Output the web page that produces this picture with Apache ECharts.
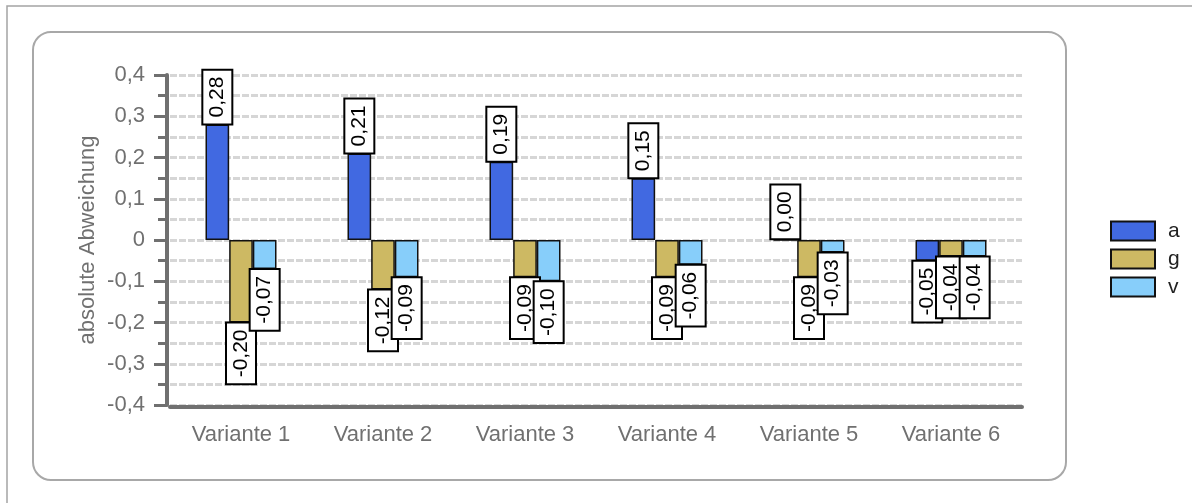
<!DOCTYPE html>
<html>
<head>
<meta charset="utf-8">
<script src="https://cdn.jsdelivr.net/npm/echarts@6/dist/echarts.min.js"></script>
<style>
  html, body { margin: 0; padding: 0; background: #ffffff; }
  #chart { width: 1192px; height: 503px; }
</style>
</head>
<body>
<div id="chart"></div>
<script>
// Categories and deviation values per series
const categories = ['Variante 1', 'Variante 2', 'Variante 3', 'Variante 4', 'Variante 5', 'Variante 6'];
const seriesNames = ['a', 'g', 'v'];
const valuesA = [0.28, 0.21, 0.19, 0.15, 0.00, -0.05];
const valuesG = [-0.20, -0.12, -0.09, -0.09, -0.09, -0.04];
const valuesV = [-0.07, -0.09, -0.10, -0.06, -0.03, -0.04];
const seriesColors = ['#4169E1', '#CDB963', '#87CEFA'];

const FONT = '"Liberation Sans", Arial, sans-serif';
const AXIS_GRAY = '#707070';

const fmtComma = (v, digits) => v.toFixed(digits).replace('.', ',');

// Value labels: vertical white boxes sitting on the end of each bar
const labelBase = {
  show: true,
  rotate: 90,
  distance: 1,
  fontFamily: FONT,
  fontSize: 21,
  color: '#000',
  backgroundColor: '#fff',
  borderColor: '#000',
  borderWidth: 2,
  padding: [3, 6, 3, 6],
  lineHeight: 22,
  verticalAlign: 'middle',
  formatter: p => fmtComma(p.value, 2)
};
const posLabel = Object.assign({}, labelBase, { position: 'top', align: 'left' });
const negLabel = Object.assign({}, labelBase, { position: 'bottom', align: 'right' });

function toItems(values) {
  return values.map(v => ({ value: v, label: v >= 0 ? posLabel : negLabel }));
}

const allValues = [valuesA, valuesG, valuesV];
const series = seriesNames.map((name, i) => ({
  name: name,
  type: 'bar',
  data: toItems(allValues[i]),
  barGap: '0%',
  barCategoryGap: '50%',
  itemStyle: { color: seriesColors[i], borderColor: '#111', borderWidth: 1.5 },
  emphasis: { disabled: true }
}));

const chart = echarts.init(document.getElementById('chart'), null, { renderer: 'canvas' });
chart.setOption({
  animation: false,
  backgroundColor: '#ffffff',
  graphic: [
    { type: 'rect', shape: { x: 7, y: 6, width: 1400, height: 800 },
      style: { fill: 'none', stroke: '#a4a4a4', lineWidth: 1.5 }, silent: true, z: -10 },
    { type: 'rect', shape: { x: 33, y: 32, width: 1033, height: 448, r: 18 },
      style: { fill: 'none', stroke: '#a8a8a8', lineWidth: 2 }, silent: true, z: -10 }
  ],
  legend: {
    orient: 'vertical',
    left: 1105,
    top: 215,
    itemWidth: 44,
    itemHeight: 19,
    itemGap: 6,
    icon: 'rect',
    textStyle: { fontFamily: FONT, fontSize: 21, lineHeight: 22, color: '#222', padding: [0, 0, 0, 8] },
    data: seriesNames
  },
  grid: { left: 170, right: 170, top: 75, bottom: 98, containLabel: false },
  xAxis: {
    type: 'category',
    data: categories,
    offset: 2,
    axisLine: { onZero: false, lineStyle: { color: AXIS_GRAY, width: 4 } },
    axisTick: { alignWithLabel: true, length: 13, lineStyle: { color: AXIS_GRAY, width: 3 } },
    axisLabel: { fontFamily: FONT, fontSize: 22, color: AXIS_GRAY, margin: 17 },
    splitLine: { show: false }
  },
  yAxis: {
    type: 'value',
    min: -0.4,
    max: 0.4,
    interval: 0.1,
    offset: 3,
    name: 'absolute Abweichung',
    nameLocation: 'middle',
    nameGap: 68,
    nameMoveOverlap: false,
    nameTextStyle: { fontFamily: FONT, fontSize: 22, color: AXIS_GRAY },
    axisLine: { show: true, lineStyle: { color: AXIS_GRAY, width: 4 } },
    axisTick: { show: true, length: 13, lineStyle: { color: AXIS_GRAY, width: 3 } },
    minorTick: { show: true, splitNumber: 2, length: 9, lineStyle: { color: AXIS_GRAY, width: 3 } },
    axisLabel: {
      fontFamily: FONT, fontSize: 22, color: AXIS_GRAY, margin: 22,
      formatter: v => (Math.abs(v) < 1e-9 ? '0' : fmtComma(v, 1))
    },
    splitLine: { show: true, lineStyle: { color: '#d6d6d6', width: 3, type: [7, 2] } },
    minorSplitLine: { show: true, lineStyle: { color: '#d6d6d6', width: 3, type: [7, 2] } }
  },
  series: series
});
</script>
</body>
</html>
